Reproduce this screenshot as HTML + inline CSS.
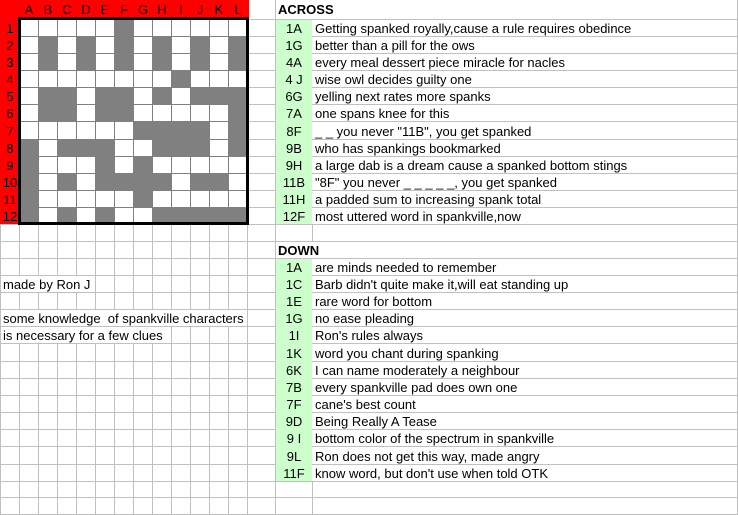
<!DOCTYPE html>
<html>
<head>
<meta charset="utf-8">
<style>
html,body{margin:0;padding:0;background:#fff;}
svg{display:block;}
text{font-family:"Liberation Sans",Arial,sans-serif;font-size:13px;fill:#000;white-space:pre;}
.c{text-anchor:middle;}
.b{font-weight:bold;}
</style>
</head>
<body>
<svg width="738" height="515" viewBox="0 0 738 515" xmlns="http://www.w3.org/2000/svg">
<rect x="0" y="0" width="738" height="515" fill="#fff"/>

<!-- light gridlines: horizontal -->
<g stroke="#c0c0c0" stroke-width="1" fill="none">
<path d="M248 19.5H738 M248 36.5H738 M248 53.5H738 M248 70.5H738 M248 87.5H738 M248 104.5H738 M248 121.5H738 M248 139.5H738 M248 156.5H738 M248 173.5H738 M248 190.5H738 M248 207.5H738"/>
<path d="M0 224.5H738 M0 241.5H738 M0 258.5H738 M0 275.5H738 M0 292.5H738 M0 309.5H738 M0 326.5H738 M0 343.5H738 M0 361.5H738 M0 378.5H738 M0 395.5H738 M0 412.5H738 M0 429.5H738 M0 446.5H738 M0 464.5H738 M0 481.5H738 M0 497.5H738 M0 514.5H738"/>
<!-- vertical -->
<path d="M0.5 224V515 M247.5 224V515 M275.5 0V515 M737.5 0V515 M312.5 224V241 M312.5 481V515"/>
<path d="M19.5 224V275 M19.5 292V309 M19.5 343V515
M38.5 224V275 M38.5 292V309 M38.5 343V515
M57.5 224V275 M57.5 292V309 M57.5 343V515
M76.5 224V275 M76.5 292V309 M76.5 343V515"/>
<path d="M95.5 224V309 M95.5 343V515
M114.5 224V309 M114.5 343V515
M133.5 224V309 M133.5 343V515
M152.5 224V309 M152.5 343V515"/>
<path d="M171.5 224V309 M171.5 326V515
M190.5 224V309 M190.5 326V515
M209.5 224V309 M209.5 326V515
M228.5 224V309 M228.5 326V515"/>
</g>

<!-- green clue number cells -->
<rect x="276" y="20" width="36" height="204" fill="#ccffcc"/>
<rect x="276" y="259" width="36" height="222" fill="#ccffcc"/>

<!-- red headers -->
<rect x="0" y="0" width="249" height="19" fill="#ff0000"/>
<rect x="0" y="0" width="19" height="224" fill="#ff0000"/>

<!-- crossword background -->
<rect x="19" y="19" width="229" height="206" fill="#fff"/>
<!-- inner lines -->
<g stroke="#808080" stroke-width="1" fill="none">
<path d="M38.5 19V224 M57.5 19V224 M76.5 19V224 M95.5 19V224 M114.5 19V224 M133.5 19V224 M152.5 19V224 M171.5 19V224 M190.5 19V224 M209.5 19V224 M228.5 19V224"/>
<path d="M19 36.5H247 M19 53.5H247 M19 70.5H247 M19 87.5H247 M19 104.5H247 M19 121.5H247 M19 139.5H247 M19 156.5H247 M19 173.5H247 M19 190.5H247 M19 207.5H247"/>
</g>
<!-- gray cells -->
<g fill="#808080">
<!-- row 1 -->
<rect x="114" y="19" width="20" height="18"/>
<!-- row 2 -->
<rect x="38" y="36" width="20" height="18"/><rect x="76" y="36" width="20" height="18"/><rect x="114" y="36" width="20" height="18"/><rect x="152" y="36" width="20" height="18"/><rect x="190" y="36" width="20" height="18"/><rect x="228" y="36" width="20" height="18"/>
<!-- row 3 -->
<rect x="38" y="53" width="20" height="18"/><rect x="76" y="53" width="20" height="18"/><rect x="114" y="53" width="20" height="18"/><rect x="152" y="53" width="20" height="18"/><rect x="190" y="53" width="20" height="18"/><rect x="228" y="53" width="20" height="18"/>
<!-- row 4 -->
<rect x="171" y="70" width="20" height="18"/>
<!-- row 5 -->
<rect x="38" y="87" width="39" height="18"/><rect x="95" y="87" width="39" height="18"/><rect x="152" y="87" width="20" height="18"/><rect x="190" y="87" width="58" height="18"/>
<!-- row 6 -->
<rect x="38" y="104" width="39" height="18"/><rect x="95" y="104" width="39" height="18"/><rect x="228" y="104" width="20" height="18"/>
<!-- row 7 -->
<rect x="133" y="121" width="77" height="19"/><rect x="228" y="121" width="20" height="19"/>
<!-- row 8 -->
<rect x="19" y="139" width="20" height="18"/><rect x="57" y="139" width="58" height="18"/><rect x="152" y="139" width="58" height="18"/><rect x="228" y="139" width="20" height="18"/>
<!-- row 9 -->
<rect x="19" y="156" width="20" height="18"/><rect x="95" y="156" width="20" height="18"/><rect x="133" y="156" width="20" height="18"/>
<!-- row 10 -->
<rect x="19" y="173" width="20" height="18"/><rect x="57" y="173" width="20" height="18"/><rect x="95" y="173" width="77" height="18"/><rect x="190" y="173" width="39" height="18"/>
<!-- row 11 -->
<rect x="19" y="190" width="20" height="18"/><rect x="133" y="190" width="20" height="18"/>
<!-- row 12 -->
<rect x="19" y="207" width="20" height="18"/><rect x="57" y="207" width="20" height="18"/><rect x="95" y="207" width="20" height="18"/><rect x="152" y="207" width="96" height="18"/>
</g>
<!-- thick border -->
<rect x="19.5" y="18.5" width="228" height="205" fill="none" stroke="#000" stroke-width="3"/>

<!-- header letters -->
<g class="c">
<text class="c" x="29" y="14">A</text>
<text class="c" x="48" y="14">B</text>
<text class="c" x="67" y="14">C</text>
<text class="c" x="86" y="14">D</text>
<text class="c" x="105" y="14">E</text>
<text class="c" x="124" y="14">F</text>
<text class="c" x="143" y="14">G</text>
<text class="c" x="162" y="14">H</text>
<text class="c" x="181" y="14">I</text>
<text class="c" x="200" y="14">J</text>
<text class="c" x="219" y="14">K</text>
<text class="c" x="238" y="14">L</text>
<text class="c" x="10" y="33">1</text>
<text class="c" x="10" y="50">2</text>
<text class="c" x="10" y="67">3</text>
<text class="c" x="10" y="84">4</text>
<text class="c" x="10" y="101">5</text>
<text class="c" x="10" y="118">6</text>
<text class="c" x="10" y="136">7</text>
<text class="c" x="10" y="153">8</text>
<text class="c" x="10" y="170">9</text>
<text class="c" x="10" y="187">10</text>
<text class="c" x="10" y="204">11</text>
<text class="c" x="10" y="221">12</text>
</g>

<!-- ACROSS -->
<text class="b" x="278" y="14">ACROSS</text>
<text class="c" x="294" y="33">1A</text><text x="315" y="33">Getting spanked royally,cause a rule requires obedince</text>
<text class="c" x="294" y="50">1G</text><text x="315" y="50">better than a pill for the ows</text>
<text class="c" x="294" y="67">4A</text><text x="315" y="67">every meal dessert piece miracle for nacles</text>
<text class="c" x="294" y="84">4 J</text><text x="315" y="84">wise owl decides guilty one</text>
<text class="c" x="294" y="101">6G</text><text x="315" y="101">yelling next rates more spanks</text>
<text class="c" x="294" y="118">7A</text><text x="315" y="118">one spans knee for this</text>
<text class="c" x="294" y="136">8F</text><text x="315" y="136">_ _ you never "11B", you get spanked</text>
<text class="c" x="294" y="153">9B</text><text x="315" y="153">who has spankings bookmarked</text>
<text class="c" x="294" y="170">9H</text><text x="315" y="170">a large dab is a dream cause a spanked bottom stings</text>
<text class="c" x="294" y="187">11B</text><text x="315" y="187">"8F" you never _ _ _ _ _, you get spanked</text>
<text class="c" x="294" y="204">11H</text><text x="315" y="204">a padded sum to increasing spank total</text>
<text class="c" x="294" y="221">12F</text><text x="315" y="221">most uttered word in spankville,now</text>

<!-- DOWN -->
<text class="b" x="278" y="255">DOWN</text>
<text class="c" x="294" y="272">1A</text><text x="315" y="272">are minds needed to remember</text>
<text class="c" x="294" y="289">1C</text><text x="315" y="289">Barb didn't quite make it,will eat standing up</text>
<text class="c" x="294" y="306">1E</text><text x="315" y="306">rare word for bottom</text>
<text class="c" x="294" y="323">1G</text><text x="315" y="323">no ease pleading</text>
<text class="c" x="294" y="340">1I</text><text x="315" y="340">Ron's rules always</text>
<text class="c" x="294" y="358">1K</text><text x="315" y="358">word you chant during spanking</text>
<text class="c" x="294" y="375">6K</text><text x="315" y="375">I can name moderately a neighbour</text>
<text class="c" x="294" y="392">7B</text><text x="315" y="392">every spankville pad does own one</text>
<text class="c" x="294" y="409">7F</text><text x="315" y="409">cane's best count</text>
<text class="c" x="294" y="426">9D</text><text x="315" y="426">Being Really A Tease</text>
<text class="c" x="294" y="443">9 I</text><text x="315" y="443">bottom color of the spectrum in spankville</text>
<text class="c" x="294" y="461">9L</text><text x="315" y="461">Ron does not get this way, made angry</text>
<text class="c" x="294" y="478">11F</text><text x="315" y="478">know word, but don't use when told OTK</text>

<!-- left notes -->
<text x="3" y="289">made by Ron J</text>
<text x="3" y="323">some knowledge  of spankville characters</text>
<text x="3" y="340">is necessary for a few clues</text>
</svg>
</body>
</html>
